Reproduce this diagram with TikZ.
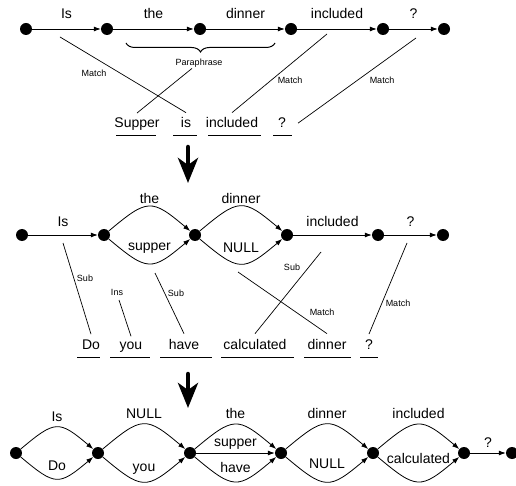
\documentclass[tikz,border=0pt]{standalone}
\usepackage{fontspec}
\setmainfont{Liberation Sans}
\usetikzlibrary{arrows.meta}
\usetikzlibrary{decorations.pathreplacing}

\tikzset{
 dot/.style={circle, fill, inner sep=0pt, minimum size=12pt},
 trans/.style={line width=0.8pt, -{Latex[length=7pt,width=5pt]}},
 upc/.style={out=40, in=140, looseness=1.6},
 loc/.style={out=-40, in=-140, looseness=1.6},
 wrd/.style={font=\fontsize{14}{16}\selectfont, inner sep=0pt, anchor=base},
 tok/.style={font=\fontsize{14}{16}\selectfont, inner sep=5pt, anchor=base},
 tag/.style={font=\fontsize{9}{10}\selectfont, inner sep=1pt},
 link/.style={line width=0.7pt},
 bigdown/.style={line width=4.5pt, line cap=round, -{Stealth[length=25pt,width=20pt,inset=7pt]}}
}

\begin{document}
\begin{tikzpicture}[x=1pt, y=1pt]
 \useasboundingbox (0,0) rectangle (516,-486);

 % reference lattice
 \node[dot] (a1) at (26,-29) {};
 \node[dot] (a2) at (107,-29) {};
 \node[dot] (a3) at (200,-29) {};
 \node[dot] (a4) at (291,-29) {};
 \node[dot] (a5) at (383,-29) {};
 \node[dot] (a6) at (444,-29) {};
 \draw[trans] (a1) -- node[wrd, yshift=10pt] (aIs) {Is} (a2);
 \draw[trans] (a2) -- node[wrd, yshift=10pt] (aThe) {the} (a3);
 \draw[trans] (a3) -- node[wrd, yshift=10pt] (aDinner) {dinner} (a4);
 \draw[trans] (a4) -- node[wrd, yshift=10pt] (aIncl) {included} (a5);
 \draw[trans] (a5) -- node[wrd, yshift=10pt] (aQ) {?} (a6);
 \draw[decorate, decoration={brace, amplitude=9pt, mirror}, line width=1pt] (126,-43) -- (275,-43);
 \node[tag] (para) at (199,-63) {Paraphrase};

 \node[tok] (sSupper) at (137,-128) {Supper};
 \node[tok] (sIs) at (186,-128) {is};
 \node[tok] (sIncl) at (232,-128) {included};
 \node[tok] (sQ) at (282,-128) {?};
 \draw[link] (116,-135) -- (156,-135);
 \draw[link] (173,-135) -- (197,-135);
 \draw[link] (208,-135) -- (261,-135);
 \draw[link] (273,-135) -- (292,-135);

 \coordinate (pIs) at (60,-37);
 \coordinate (pIncl) at (327,-34);
 \coordinate (pQ) at (416,-38);
 \draw[link] (pIs) -- (sIs.north);
 \draw[link] ([xshift=-7pt]para.south) -- (sSupper.north);
 \draw[link] (pIncl) -- (sIncl.north);
 \draw[link] (pQ) -- ([xshift=7pt]sQ.east);
 \node[tag] (m1) at (94,-73) {Match};
 \node[tag] (m2) at (290,-80) {Match};
 \node[tag] (m3) at (382,-80) {Match};

 \coordinate (d1) at (188,-147);
 \coordinate (d1e) at (188,-183);
 \draw[bigdown] (d1) -- (d1e);

 % after paraphrase
 \node[dot] (b1) at (22,-235) {};
 \node[dot] (b2) at (104,-235) {};
 \node[dot] (b3) at (195,-235) {};
 \node[dot] (b4) at (287,-235) {};
 \node[dot] (b5) at (378,-235) {};
 \node[dot] (b6) at (443,-235) {};
 \draw[trans] (b1) -- node[wrd, yshift=9pt] (bIs) {Is} (b2);
 \draw[trans] (b2) to[upc] node[wrd, yshift=3pt] (bThe) {the} (b3);
 \draw[trans] (b2) to[loc] node[wrd, yshift=13pt] (bSupper) {supper} (b3);
 \draw[trans] (b3) to[upc] node[wrd, yshift=3pt] (bDinner) {dinner} (b4);
 \draw[trans] (b3) to[loc] node[wrd, yshift=11pt] (bNull) {NULL} (b4);
 \draw[trans] (b4) -- node[wrd, yshift=9pt] (bIncl) {included} (b5);
 \draw[trans] (b5) -- node[wrd, yshift=9pt] (bQ) {?} (b6);

 \node[tok] (tDo) at (91,-349) {Do};
 \node[tok] (tYou) at (131,-349) {you};
 \node[tok] (tHave) at (184,-349) {have};
 \node[tok] (tCalc) at (255,-349) {calculated};
 \node[tok] (tDinner) at (327,-349) {dinner};
 \node[tok] (tQ) at (369,-349) {?};
 \draw[link] (77,-357) -- (100,-357);
 \draw[link] (110,-357) -- (150,-357);
 \draw[link] (160,-357) -- (212,-357);
 \draw[link] (221,-357) -- (294,-357);
 \draw[link] (304,-357) -- (351,-357);
 \draw[link] (360,-357) -- (378,-357);

 \coordinate (qIs) at (63,-243);
 \coordinate (qIns) at (119,-300);
 \coordinate (qSupper) at (155,-273);
 \coordinate (qNull) at (238,-272);
 \coordinate (qIncl) at (321,-252);
 \coordinate (qQ) at (407,-243);
 \draw[link] (qIs) -- (tDo.north);
 \draw[link] (qIns) -- (tYou.north);
 \draw[link] (qSupper) -- (tHave.north);
 \draw[link] (qNull) -- (tDinner.north);
 \draw[link] (qIncl) -- (tCalc.north);
 \draw[link] (qQ) -- (tQ.north);
 \node[tag] (n1) at (85,-278) {Sub};
 \node[tag] (n2) at (117,-292) {Ins};
 \node[tag] (n3) at (176,-293) {Sub};
 \node[tag] (n4) at (292,-267) {Sub};
 \node[tag] (n5) at (322,-312) {Match};
 \node[tag] (n6) at (398,-303) {Match};

 \coordinate (d2) at (188,-374);
 \coordinate (d2e) at (188,-408);
 \draw[bigdown] (d2) -- (d2e);

 % merged lattice
 \node[dot] (c1) at (16,-453) {};
 \node[dot] (c2) at (98,-453) {};
 \node[dot] (c3) at (190,-453) {};
 \node[dot] (c4) at (281,-453) {};
 \node[dot] (c5) at (373,-453) {};
 \node[dot] (c6) at (464,-453) {};
 \node[dot] (c7) at (512,-453) {};
 \draw[trans] (c1) to[upc] node[wrd, yshift=6pt] (cIs) {Is} (c2);
 \draw[trans] (c1) to[loc] node[wrd, yshift=8pt] (cDo) {Do} (c2);
 \draw[trans] (c2) to[upc] node[wrd, yshift=6pt] (cNull) {NULL} (c3);
 \draw[trans] (c2) to[loc] node[wrd, yshift=10pt] (cYou) {you} (c3);
 \draw[trans] (c3) to[upc] node[wrd, yshift=6pt] (cThe) {the} (c4);
 \draw[trans] (c3) -- node[wrd, yshift=7pt] (cSupper) {supper} (c4);
 \draw[trans] (c3) to[loc] node[wrd, yshift=9pt] (cHave) {have} (c4);
 \draw[trans] (c4) to[upc] node[wrd, yshift=6pt] (cDinner) {dinner} (c5);
 \draw[trans] (c4) to[loc] node[wrd, yshift=13pt] (cNull2) {NULL} (c5);
 \draw[trans] (c5) to[upc] node[wrd, yshift=6pt] (cIncl) {included} (c6);
 \draw[trans] (c5) to[loc] node[wrd, yshift=18pt] (cCalc) {calculated} (c6);
 \draw[trans] (c6) -- node[wrd, yshift=6pt] (cQ) {?} (c7);
\end{tikzpicture}
\end{document}
